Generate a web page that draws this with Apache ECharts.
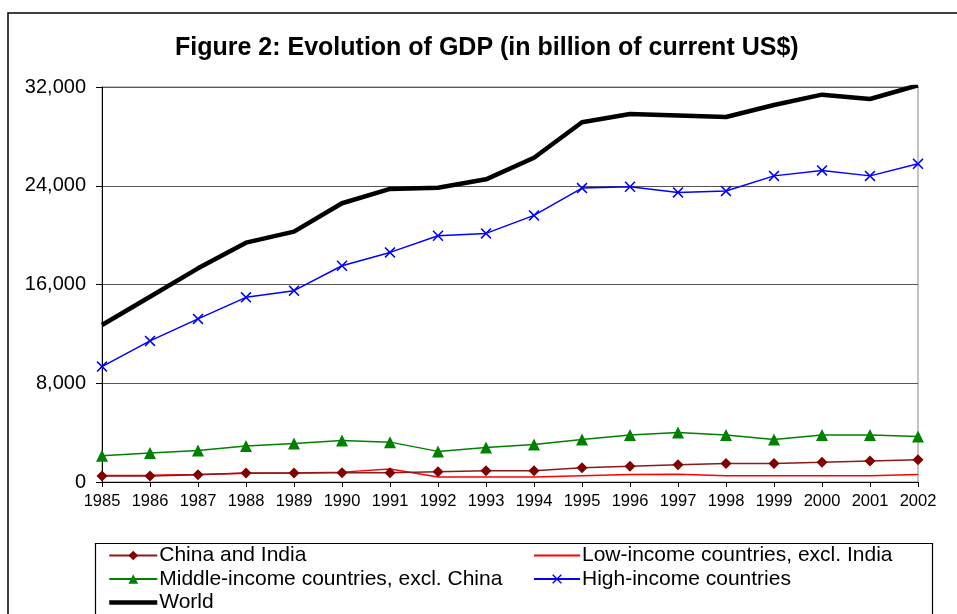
<!DOCTYPE html>
<html>
<head>
<meta charset="utf-8">
<script src="https://cdn.jsdelivr.net/npm/echarts@6/dist/echarts.min.js"></script>
<style>html,body{margin:0;padding:0;background:#fff}#c{width:957px;height:614px}</style>
</head>
<body>
<div id="c"></div>
<script>
const years = ['1985','1986','1987','1988','1989','1990','1991','1992','1993','1994','1995','1996','1997','1998','1999','2000','2001','2002'];
const chinaIndia = [490, 490, 590, 730, 730, 740, 740, 840, 920, 920, 1160, 1270, 1400, 1500, 1500, 1590, 1700, 1810];
const lowIncome = [520, 550, 610, 700, 730, 800, 1050, 400, 400, 400, 510, 600, 620, 510, 510, 510, 510, 610];
const middleIncome = [2130, 2350, 2560, 2910, 3120, 3360, 3230, 2480, 2800, 3040, 3440, 3800, 4010, 3800, 3440, 3800, 3800, 3690];
const highIncome = [9350, 11430, 13210, 14960, 15500, 17520, 18600, 19950, 20140, 21600, 23810, 23920, 23460, 23570, 24800, 25240, 24800, 25780];
const world = [12720, 15010, 17310, 19390, 20280, 22580, 23740, 23840, 24520, 26270, 29140, 29810, 29700, 29570, 30540, 31380, 31030, 32140];
const yTicks = {min: 0, max: 32000, interval: 8000};

const xSym = 'path://M0,1 L1,0 L5,4 L9,0 L10,1 L6,5 L10,9 L9,10 L5,6 L1,10 L0,9 L4,5 Z';
const font = 'Liberation Sans, Arial, sans-serif';

const chart = echarts.init(document.getElementById('c'));
chart.setOption({
  animation: false,
  backgroundColor: '#fff',
  title: {
    text: 'Figure 2: Evolution of GDP (in billion of current US$)',
    left: 175, top: 36, padding: 0,
    textStyle: {fontFamily: font, fontSize: 25, fontWeight: 'bold', color: '#000'}
  },
  graphic: [
    {type: 'rect', shape: {x: 8, y: 13, width: 1000, height: 700}, style: {fill: 'none', stroke: '#000', lineWidth: 1.5}, silent: true, z: -1},
    {type: 'rect', shape: {x: 95.5, y: 543.5, width: 837, height: 100}, style: {fill: 'none', stroke: '#000', lineWidth: 1.2}, silent: true, z: -1}
  ],
  legend: [
    {
      data: [
        {name: 'China and India'},
        {name: 'Middle-income countries, excl. China'},
        {name: 'World', itemStyle: {opacity: 0}, lineStyle: {width: 4.5, color: '#000'}}
      ],
      orient: 'vertical', left: 107, top: 545, padding: 0, itemGap: 2.5, itemWidth: 48, itemHeight: 12,
      textStyle: {fontFamily: font, fontSize: 21, color: '#000', padding: [0, 0, 0, -3]}
    },
    {
      data: [
        {name: 'Low-income countries, excl. India', itemStyle: {opacity: 0}},
        {name: 'High-income countries'}
      ],
      orient: 'vertical', left: 533, top: 545, padding: 0, itemGap: 2.5, itemWidth: 46, itemHeight: 12,
      textStyle: {fontFamily: font, fontSize: 21, color: '#000', padding: [0, 0, 0, -3]}
    }
  ],
  grid: {left: 102, right: 39, top: 87, bottom: 132, show: true, borderColor: '#888', borderWidth: 1, containLabel: false},
  xAxis: {
    type: 'category', data: years, boundaryGap: false,
    axisLine: {lineStyle: {color: '#000', width: 1}},
    axisTick: {show: true, alignWithLabel: true, length: 5, lineStyle: {color: '#000'}},
    axisLabel: {fontFamily: font, fontSize: 16.5, color: '#000', margin: 11, interval: 0}
  },
  yAxis: {
    type: 'value', min: yTicks.min, max: yTicks.max, interval: yTicks.interval,
    axisLine: {show: true, lineStyle: {color: '#000', width: 1}},
    axisTick: {show: true, length: 6, lineStyle: {color: '#000'}},
    axisLabel: {fontFamily: font, fontSize: 20, color: '#000', margin: 16,
      formatter: v => v.toLocaleString('en-US')},
    splitLine: {show: true, lineStyle: {color: '#555', width: 1}}
  },
  series: [
    {name: 'China and India', type: 'line', data: chinaIndia, symbol: 'diamond', symbolSize: 11,
      lineStyle: {color: '#8B1A1A', width: 1.5}, itemStyle: {color: '#800000'}, z: 4},
    {name: 'Low-income countries, excl. India', type: 'line', data: lowIncome, symbol: 'none', showSymbol: false,
      lineStyle: {color: '#FF0000', width: 1.5}, itemStyle: {color: '#FF0000'}, z: 3},
    {name: 'Middle-income countries, excl. China', type: 'line', data: middleIncome, symbol: 'triangle', symbolSize: 12,
      lineStyle: {color: '#008000', width: 1.5}, itemStyle: {color: '#008000'}, z: 4},
    {name: 'High-income countries', type: 'line', data: highIncome, symbol: xSym, symbolSize: 11,
      lineStyle: {color: '#0000FF', width: 1.5}, itemStyle: {color: '#0000FF'}, z: 4},
    {name: 'World', type: 'line', data: world, symbol: 'none', showSymbol: false,
      lineStyle: {color: '#000', width: 4.5}, itemStyle: {color: '#000'}, z: 5}
  ]
});
</script>
</body>
</html>
